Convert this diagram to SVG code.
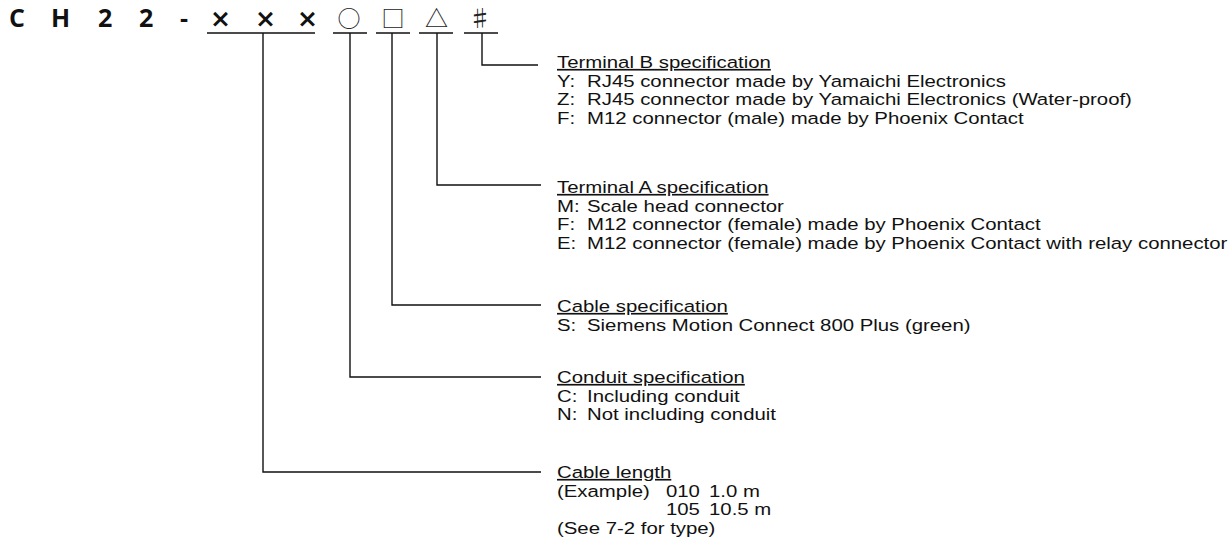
<svg xmlns="http://www.w3.org/2000/svg" width="1230" height="558" viewBox="0 0 1230 558">
<style>
.t{font-family:"Liberation Sans","Arial",sans-serif;font-size:16.7px;fill:#111}
.h{text-decoration:underline}
.title{font-family:"Open Sans","DejaVu Sans",sans-serif;font-weight:700;font-size:25px;fill:#111}
.x{font-family:"DejaVu Sans",sans-serif;font-weight:700;font-size:25px;fill:#111}
.sym{font-family:"Noto Sans CJK JP","DejaVu Sans",sans-serif;font-size:23px;fill:#222;text-anchor:middle}
.ln{fill:none;stroke:#111;stroke-width:1.4}
</style>
<rect width="1230" height="558" fill="#fff"/>
<g id="title">
<text class="title" x="9 51 98 139 180" y="27">CH22-</text>
<text class="x" x="210 255 297" y="27">×××</text>
<text class="sym" x="349" y="27">○</text>
<text class="sym" x="393" y="27">□</text>
<text class="sym" x="436.5" y="27">△</text>
<text class="sym" x="480" y="27">♯</text>
</g>
<g id="connectors">
<path class="ln" d="M207 33H315M333 33H367M376 33H410M419 33H453M464 33H498"/>
<path class="ln" d="M263 33V472H541"/>
<path class="ln" d="M350 33V377H541"/>
<path class="ln" d="M392 33V305H541"/>
<path class="ln" d="M437 33V185H541"/>
<path class="ln" d="M482 33V65H538"/>
</g>
<g id="terminal-b" transform="translate(557 0) scale(1.22 1)">
<text class="t h" x="0" y="68">Terminal B specification</text>
<text class="t" x="0" y="86.7">Y:</text><text class="t" x="24.6" y="86.7">RJ45 connector made by Yamaichi Electronics</text>
<text class="t" x="0" y="105.4">Z:</text><text class="t" x="24.6" y="105.4">RJ45 connector made by Yamaichi Electronics (Water-proof)</text>
<text class="t" x="0" y="124">F:</text><text class="t" x="24.6" y="124">M12 connector (male) made by Phoenix Contact</text>
</g>
<g id="terminal-a" transform="translate(557 0) scale(1.22 1)">
<text class="t h" x="0" y="193">Terminal A specification</text>
<text class="t" x="0" y="211.7">M:</text><text class="t" x="24.6" y="211.7">Scale head connector</text>
<text class="t" x="0" y="230.4">F:</text><text class="t" x="24.6" y="230.4">M12 connector (female) made by Phoenix Contact</text>
<text class="t" x="0" y="249">E:</text><text class="t" x="24.6" y="249">M12 connector (female) made by Phoenix Contact with relay connector</text>
</g>
<g id="cable-spec" transform="translate(557 0) scale(1.22 1)">
<text class="t h" x="0" y="312">Cable specification</text>
<text class="t" x="0" y="330.7">S:</text><text class="t" x="24.6" y="330.7">Siemens Motion Connect 800 Plus (green)</text>
</g>
<g id="conduit-spec" transform="translate(557 0) scale(1.22 1)">
<text class="t h" x="0" y="383">Conduit specification</text>
<text class="t" x="0" y="401.7">C:</text><text class="t" x="24.6" y="401.7">Including conduit</text>
<text class="t" x="0" y="420.4">N:</text><text class="t" x="24.6" y="420.4">Not including conduit</text>
</g>
<g id="cable-length" transform="translate(557 0) scale(1.22 1)">
<text class="t h" x="0" y="478">Cable length</text>
<text class="t" x="0" y="496.7">(Example)</text><text class="t" x="89.3" y="496.7">010</text><text class="t" x="124.6" y="496.7">1.0 m</text>
<text class="t" x="89.3" y="515.4">105</text><text class="t" x="124.6" y="515.4">10.5 m</text>
<text class="t" x="0" y="534">(See 7-2 for type)</text>
</g>
</svg>
